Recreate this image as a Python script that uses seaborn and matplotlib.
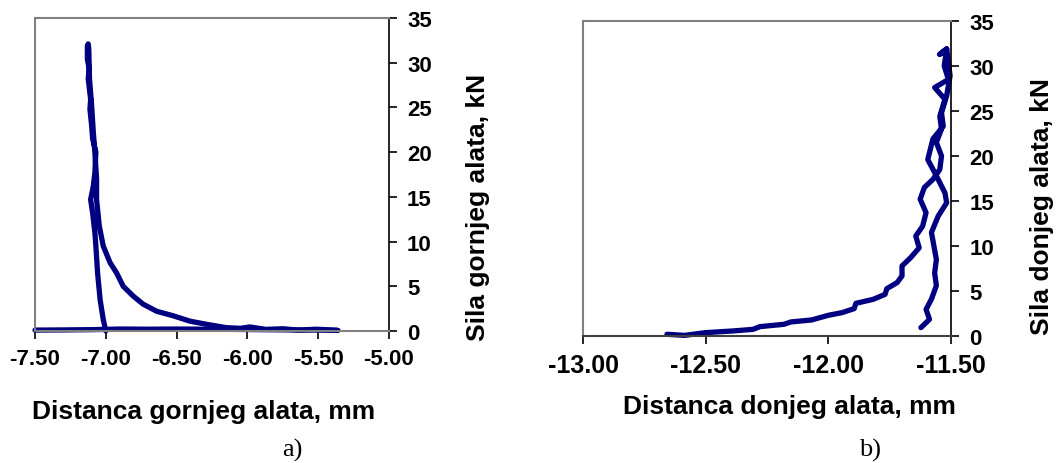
import pandas as pd
import matplotlib
matplotlib.use('Agg')
import matplotlib.pyplot as plt
import seaborn as sns

# a) gornji alat - put opterecenja i rasterecenja
upper_dist = [-7.000, -7.018, -7.040, -7.058, -7.070, -7.077, -7.093, -7.107, -7.088, -7.077,
              -7.070, -7.093, -7.100, -7.112, -7.107, -7.124, -7.117, -7.130, -7.130, -7.124,
              -7.120, -7.115, -7.100, -7.088, -7.077, -7.065, -7.065, -7.046, -7.018, -6.970,
              -6.924, -6.877, -6.806, -6.736, -6.640, -6.524, -6.406, -6.289, -6.148, -6.050,
              -5.983, -5.870, -5.750, -5.640, -5.513, -5.360]
upper_force = [0.0, 1.3, 3.5, 6.5, 9.5, 11.0, 13.2, 14.7, 16.2, 17.7,
               20.0, 21.5, 23.0, 24.8, 25.9, 28.2, 29.3, 30.4, 31.9, 32.1,
               31.5, 28.2, 25.2, 22.2, 20.0, 17.0, 14.7, 11.75, 9.5, 7.65,
               6.5, 5.0, 3.9, 3.0, 2.2, 1.7, 1.1, 0.75, 0.37, 0.30,
               0.45, 0.18, 0.25, 0.10, 0.20, 0.07]
# a) pocetni put (sila ~ 0)
upper_base_dist = [-7.50, -7.30, -7.10, -6.90, -6.70, -6.50, -6.30, -6.10, -5.90, -5.70, -5.50, -5.37]
upper_base_force = [0.10, 0.12, 0.15, 0.22, 0.20, 0.22, 0.20, 0.18, 0.15, 0.12, 0.10, 0.08]

# b) donji alat
lower_dist = [-12.658, -12.586, -12.502, -12.390, -12.307, -12.279, -12.181, -12.153, -12.069, -12.000,
              -11.944, -11.895, -11.888, -11.818, -11.769, -11.762, -11.720, -11.700, -11.700, -11.665,
              -11.630, -11.644, -11.616, -11.602, -11.626, -11.609, -11.574, -11.546, -11.539, -11.560,
              -11.539, -11.546, -11.525, -11.567, -11.511, -11.528, -11.518, -11.546, -11.518, -11.504,
              -11.518, -11.539, -11.532, -11.574, -11.595, -11.560, -11.525, -11.518, -11.553, -11.580,
              -11.560, -11.567, -11.560, -11.580, -11.602, -11.588, -11.623]
lower_force = [0.19, 0.07, 0.37, 0.56, 0.74, 1.04, 1.30, 1.56, 1.78, 2.30,
               2.60, 3.04, 3.63, 4.07, 4.63, 5.26, 5.93, 6.67, 7.78, 8.70,
               9.80, 11.1, 12.2, 13.7, 15.2, 16.5, 17.4, 18.5, 20.0, 21.5,
               23.0, 24.4, 26.3, 27.6, 28.5, 30.0, 31.9, 31.3, 31.9, 28.9,
               26.7, 24.8, 23.3, 21.9, 19.6, 17.8, 15.9, 14.8, 13.3, 11.5,
               8.5, 7.0, 5.6, 4.1, 2.96, 1.85, 0.93]

upper_ticks = [-7.50, -7.00, -6.50, -6.00, -5.50, -5.00]
lower_ticks = [-13.00, -12.50, -12.00, -11.50]
force_ticks = [0, 5, 10, 15, 20, 25, 30, 35]

sns.set_style('white')
plt.rcParams['font.family'] = ['Liberation Sans', 'DejaVu Sans']
plt.rcParams['text.color'] = 'black'
plt.rcParams['xtick.color'] = 'black'
plt.rcParams['ytick.color'] = 'black'

navy = '#000080'
grey = '#808080'

df_up = pd.DataFrame({'dist': upper_dist, 'force': upper_force})
df_base = pd.DataFrame({'dist': upper_base_dist, 'force': upper_base_force})
df_low = pd.DataFrame({'dist': lower_dist, 'force': lower_force})

fig = plt.figure(figsize=(10.57, 4.64), dpi=100)
ax1 = fig.add_axes([0.0331, 0.2845, 0.3349, 0.6746])
ax2 = fig.add_axes([0.5516, 0.2737, 0.3482, 0.6790])

line_kw = dict(sort=False, estimator=None, color=navy, lw=3.8, clip_on=False,
               solid_capstyle='round', solid_joinstyle='round')
sns.lineplot(data=df_base, x='dist', y='force', ax=ax1, **line_kw)
sns.lineplot(data=df_up, x='dist', y='force', ax=ax1, **line_kw)
sns.lineplot(data=df_low, x='dist', y='force', ax=ax2, **line_kw)

def style_axes(ax, xticks, xlim, xsize, bottom_color):
    ax.set_xlim(*xlim)
    ax.set_ylim(0, 35)
    ax.set_xticks(xticks)
    ax.set_xticklabels(['%.2f' % t for t in xticks], fontsize=xsize, fontweight='bold')
    ax.set_yticks(force_ticks)
    ax.set_yticklabels([str(t) for t in force_ticks], fontsize=16, fontweight='bold')
    ax.yaxis.tick_right()
    ax.set_xlabel('')
    ax.set_ylabel('')
    for side in ['left', 'top']:
        ax.spines[side].set_color(grey)
        ax.spines[side].set_linewidth(1.5)
    ax.spines['bottom'].set_color(bottom_color)
    ax.spines['bottom'].set_linewidth(1.5)
    ax.spines['right'].set_color('black')
    ax.spines['right'].set_linewidth(1.2)
    ax.tick_params(axis='x', direction='out', length=6, width=1.2, color='black', pad=6,
                   bottom=True)
    ax.tick_params(axis='y', direction='out', length=6, width=1.2, color='black', pad=7,
                   right=True, left=False)

style_axes(ax1, upper_ticks, (-7.5, -5.0), 16, grey)
style_axes(ax2, lower_ticks, (-13.0, -11.5), 18, '#404040')

fig.text(0.193, 0.112, 'Distanca gornjeg alata, mm', ha='center', va='center',
         fontsize=19, fontweight='bold')
fig.text(0.7465, 0.1228, 'Distanca donjeg alata, mm', ha='center', va='center',
         fontsize=19, fontweight='bold')
fig.text(0.452, 0.554, 'Sila gornjeg alata, kN', ha='center', va='center',
         rotation=90, fontsize=19, fontweight='bold')
fig.text(0.9858, 0.554, 'Sila donjeg alata, kN', ha='center', va='center',
         rotation=90, fontsize=19, fontweight='bold')
fig.text(0.277, 0.030, 'a)', ha='center', va='center', fontsize=19,
         family=['Liberation Serif', 'DejaVu Serif'])
fig.text(0.823, 0.030, 'b)', ha='center', va='center', fontsize=19,
         family=['Liberation Serif', 'DejaVu Serif'])

fig.savefig('out.png', dpi=100)
